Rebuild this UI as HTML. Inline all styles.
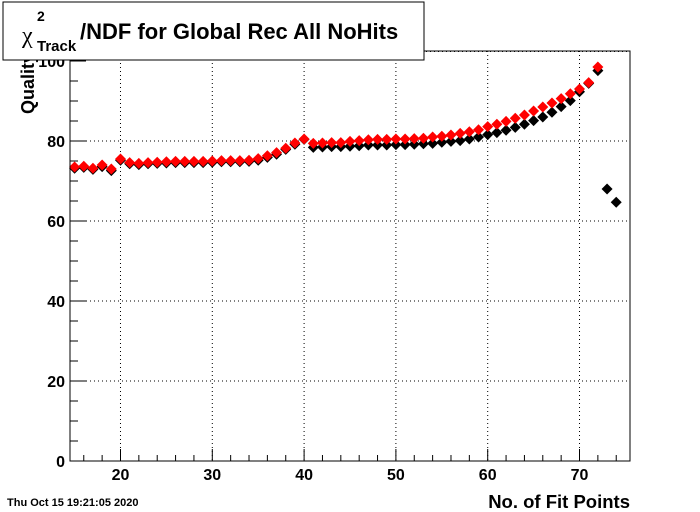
<!DOCTYPE html>
<html><head><meta charset="utf-8"><style>
body{margin:0;background:#fff;}
svg{display:block;font-family:"Liberation Sans",Arial,sans-serif;}
</style></head><body>
<svg id="chart" width="700" height="512" viewBox="0 0 700 512" xmlns="http://www.w3.org/2000/svg">
<rect x="0" y="0" width="700" height="512" fill="#fff"/>
<g id="grid"></g>
<g id="axes"></g>
<g id="series-black"></g>
<g id="series-red"></g>
<rect x="70" y="51" width="560" height="410" fill="none" stroke="#000" stroke-width="1"/>
<text transform="translate(34,114) rotate(-90)" font-size="18" font-weight="bold" text-anchor="start">Quality</text>
<g>
<rect x="3" y="2" width="421" height="58" fill="#fff" stroke="#000" stroke-width="1"/>
<text x="22" y="43" font-size="24" font-family="Liberation Serif,serif">χ</text>
<text x="37" y="21" font-size="14" font-weight="bold">2</text>
<text x="37" y="51" font-size="15" font-weight="bold">Track</text>
<text x="80" y="39" font-size="22" font-weight="bold">/NDF for Global Rec All NoHits</text>
</g>
<text x="630" y="508" font-size="18.5" font-weight="bold" text-anchor="end">No. of Fit Points</text>
<text x="7" y="506" font-size="11" font-weight="bold">Thu Oct 15 19:21:05 2020</text>
</svg>
<script>
const xTicks=[20,30,40,50,60,70];
const yTicks=[0,20,40,60,80,100];
const blackX=[15,16,17,18,19,20,21,22,23,24,25,26,27,28,29,30,31,32,33,34,35,36,37,38,39,40,41,42,43,44,45,46,47,48,49,50,51,52,53,54,55,56,57,58,59,60,61,62,63,64,65,66,67,68,69,70,71,72,73,74];
const blackY=[73.2,73.4,72.9,73.6,72.6,75.2,74.3,74.1,74.3,74.4,74.5,74.6,74.6,74.6,74.6,74.7,74.8,74.8,74.8,74.9,75.2,75.9,76.7,77.9,79.2,80.4,78.4,78.5,78.6,78.6,78.7,78.8,79,79,79,79.1,79.1,79.2,79.3,79.4,79.7,79.9,80.1,80.5,81,81.6,82.1,82.7,83.4,84.2,85.1,86,87.2,88.6,90.1,92.3,94.4,97.6,68,64.7];
const redX=[15,16,17,18,19,20,21,22,23,24,25,26,27,28,29,30,31,32,33,34,35,36,37,38,39,40,41,42,43,44,45,46,47,48,49,50,51,52,53,54,55,56,57,58,59,60,61,62,63,64,65,66,67,68,69,70,71,72];
const redY=[73.5,73.7,73.2,74,73,75.5,74.6,74.4,74.6,74.7,74.8,74.9,74.9,74.9,74.9,75,75.1,75.1,75.1,75.2,75.6,76.3,77.1,78.2,79.5,80.5,79.4,79.5,79.6,79.6,79.9,80.1,80.3,80.4,80.4,80.5,80.5,80.6,80.7,81,81.2,81.5,81.9,82.3,82.8,83.6,84.2,84.9,85.7,86.5,87.5,88.5,89.5,90.6,91.8,93,94.6,98.5];
const X0=14.5,X1=75.5,PL=70,PR=630,PT=51,PB=461,Y0=0,Y1=102.5;
function sx(v){return PL+(v-X0)/(X1-X0)*(PR-PL);}
function sy(v){return PB-(v-Y0)/(Y1-Y0)*(PB-PT);}
const NS='http://www.w3.org/2000/svg';
function mk(tag,attrs,parent){const e=document.createElementNS(NS,tag);for(const k in attrs)e.setAttribute(k,attrs[k]);parent.appendChild(e);return e;}
const grid=document.getElementById('grid'),axes=document.getElementById('axes');
xTicks.forEach(t=>{
 const l=mk('line',{x1:sx(t),x2:sx(t),y1:PT,y2:PB,stroke:'#000','stroke-dasharray':'1 3'},grid);
 
 
 const tk=mk('line',{x1:sx(t),x2:sx(t),y1:PB,y2:PB-12,stroke:'#000'},axes);
 
 
 const tx=mk('text',{x:sx(t),y:PB+19,'font-size':16,'font-weight':'bold','text-anchor':'middle'},axes);
 tx.textContent=t;
 
 
});
for(let v=16;v<=75;v+=2){if(v%10===0)continue;
 const m=mk('line',{x1:sx(v),x2:sx(v),y1:PB,y2:PB-6,stroke:'#000'},axes);
 
 
}
yTicks.forEach(t=>{
 if(t>0&&t<100){const l=mk('line',{x1:PL,x2:PR,y1:sy(t),y2:sy(t),stroke:'#000','stroke-dasharray':'1 3'},grid);
 
 }
 const tk=mk('line',{x1:PL,x2:PL+16,y1:sy(t),y2:sy(t),stroke:'#000'},axes);
 
 
 const tx=mk('text',{x:PL-5,y:sy(t)+6,'font-size':16,'font-weight':'bold','text-anchor':'end'},axes);
 tx.textContent=t;
 
 
});
mk('line',{x1:PL,x2:PR,y1:PT+0.5,y2:PT+0.5,stroke:'#000','stroke-dasharray':'1 3'},grid);
for(let v=5;v<=100;v+=5){if(v%20===0)continue;
 const m=mk('line',{x1:PL,x2:PL+8,y1:sy(v),y2:sy(v),stroke:'#000'},axes);
 
 
}
function draw(g,xs,ys,color,name){
 xs.forEach((x,i)=>{const cx=sx(x),cy=sy(ys[i]),r=5.5;
  const p=mk('polygon',{points:`${cx},${cy-r} ${cx+r},${cy} ${cx},${cy+r} ${cx-r},${cy}`,fill:color},g);
  
  
 });
}
draw(document.getElementById('series-black'),blackX,blackY,'#000','black-point');
draw(document.getElementById('series-red'),redX,redY,'#ff0000','red-point');
</script>
</body></html>
